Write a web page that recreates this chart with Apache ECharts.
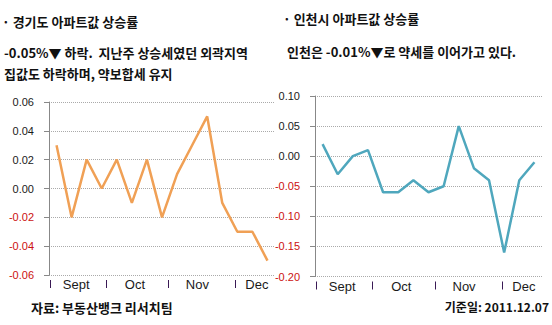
<!DOCTYPE html>
<html>
<head>
<meta charset="utf-8">
<script src="https://cdn.jsdelivr.net/npm/echarts@6/dist/echarts.min.js"></script>
<style>
html,body{margin:0;padding:0;background:#fff;}
#chart{width:552px;height:325px;}
</style>
</head>
<body>
<div id="chart"></div>
<script>
// ---- data ----
var weeks = ['1','2','3','4','5','6','7','8','9','10','11','12','13','14','15'];
var gyeonggi = [0.03, -0.02, 0.02, 0.00, 0.02, -0.01, 0.02, -0.02, 0.01, 0.03, 0.05, -0.01, -0.03, -0.03, -0.05];
var incheon  = [0.02, -0.03, 0.00, 0.01, -0.06, -0.06, -0.04, -0.06, -0.05, 0.05, -0.02, -0.04, -0.16, -0.04, -0.01];
var monthLabels = ['Sept', 'Oct', 'Nov', 'Dec'];
var monthLabelPos = [1.8, 5.7, 9.85, 13.8];
var monthTickPos = [0.05, 3.78, 7.93, 12.35];
var leftTexts = ['· 경기도 아파트값 상승률', '-0.05%▼ 하락.  지난주 상승세였던 외곽지역', '집값도 하락하며, 약보합세 유지'];
var rightTexts = ['· 인천시 아파트값 상승률', '인천은 -0.01%▼로 약세를 이어가고 있다.'];
var sourceText = '자료: 부동산뱅크 리서치팀';
var dateText = '기준일: 2011.12.07';

var KFONT = '"Noto Sans CJK KR", "Noto Sans", sans-serif';
var NFONT = '"Liberation Sans", Arial, sans-serif';

function txt(text, pos, size) {
  var t = {
    text: text,
    padding: 0,
    textStyle: { fontFamily: KFONT, fontSize: size || 13, fontWeight: 'bold', color: '#111', lineHeight: 16 }
  };
  for (var k in pos) t[k] = pos[k];
  return t;
}

function yAxisCfg(grid, min, max, interval) {
  return {
    type: 'value', gridIndex: grid, min: min, max: max, interval: interval,
    axisLine: { show: true, lineStyle: { color: '#888', width: 1 } },
    axisTick: { show: true, length: 5, lineStyle: { color: '#888' } },
    splitLine: { show: true, lineStyle: { color: '#aaa', type: [1, 1], width: 1 } },
    axisLabel: {
      margin: 15, fontFamily: NFONT, fontSize: 11,
      formatter: function (v) { return v.toFixed(2); },
      color: function (v) { return Number(v) < -1e-9 ? '#cc1111' : '#1a1a1a'; }
    }
  };
}

function catAxis(grid) {
  return { type: 'category', gridIndex: grid, data: weeks, boundaryGap: true, show: false };
}

function monthAxis(grid) {
  return {
    type: 'value', gridIndex: grid, min: 0, max: weeks.length, position: 'bottom', offset: 5,
    axisLine: { show: false },
    splitLine: { show: false },
    axisTick: { show: true, length: 8, customValues: monthTickPos, lineStyle: { color: '#3a1a55', width: 1 } },
    axisLabel: {
      show: true, margin: -2, fontFamily: NFONT, fontSize: 13, color: '#1a1a1a',
      customValues: monthLabelPos,
      formatter: function (v) {
        for (var i = 0; i < monthLabelPos.length; i++) {
          if (Math.abs(monthLabelPos[i] - v) < 1e-6) return monthLabels[i];
        }
        return '';
      }
    }
  };
}

var chart = echarts.init(document.getElementById('chart'), null, { renderer: 'svg' });
chart.setOption({
  animation: false,
  backgroundColor: '#fff',
  title: [
    txt(leftTexts[0], { left: 2, top: 13.5 }),
    txt(leftTexts[1], { left: 4, top: 44 }),
    txt(leftTexts[2], { left: 4, top: 65 }),
    txt(rightTexts[0], { left: 283, top: 10 }),
    txt(rightTexts[1], { left: 287, top: 43.5 }),
    txt(sourceText, { left: 31, top: 299.5 }),
    txt(dateText, { right: 3, top: 298.5 }, 12)
  ],
  grid: [
    { left: 49, top: 102, width: 226, height: 173 },
    { left: 315, top: 96, width: 227, height: 180.5 }
  ],
  xAxis: [catAxis(0), monthAxis(0), catAxis(1), monthAxis(1)],
  yAxis: [yAxisCfg(0, -0.06, 0.06, 0.02), yAxisCfg(1, -0.2, 0.1, 0.05)],
  series: [
    { type: 'line', xAxisIndex: 0, yAxisIndex: 0, data: gyeonggi, symbol: 'none', smooth: false,
      lineStyle: { color: '#F0A055', width: 2.5 } },
    { type: 'line', xAxisIndex: 2, yAxisIndex: 1, data: incheon, symbol: 'none', smooth: false,
      lineStyle: { color: '#4FA7BD', width: 2.5 } }
  ]
});
</script>
</body>
</html>
